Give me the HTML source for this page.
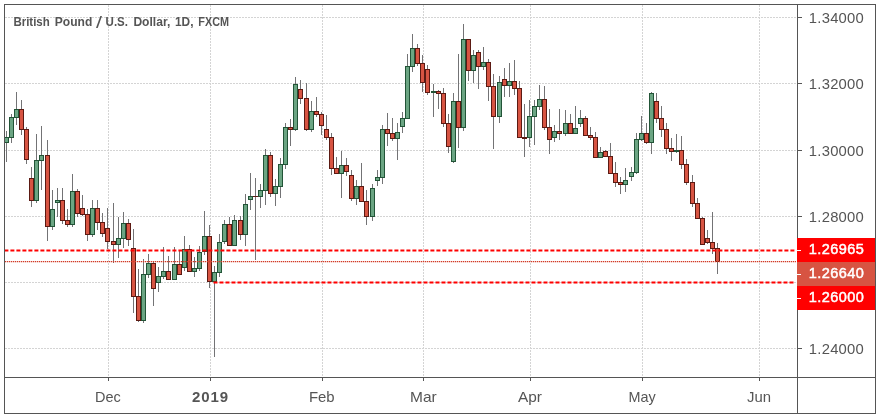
<!DOCTYPE html>
<html><head><meta charset="utf-8"><title>GBPUSD</title>
<style>html,body{margin:0;padding:0;background:#fff;}svg{display:block}text{font-family:"Liberation Sans",sans-serif;}</style></head><body>
<svg width="879" height="419" viewBox="0 0 879 419">
<rect x="0" y="0" width="879" height="419" fill="#ffffff"/>
<g stroke="#d4d4d4" stroke-width="1" stroke-dasharray="2 1" shape-rendering="crispEdges">
<line x1="5" x2="797" y1="17.5" y2="17.5"/>
<line x1="5" x2="797" y1="83.5" y2="83.5"/>
<line x1="5" x2="797" y1="150.5" y2="150.5"/>
<line x1="5" x2="797" y1="216.5" y2="216.5"/>
<line x1="5" x2="797" y1="282.5" y2="282.5"/>
<line x1="5" x2="797" y1="348.5" y2="348.5"/>
<line x1="108.5" x2="108.5" y1="5" y2="377"/>
<line x1="210.5" x2="210.5" y1="5" y2="377"/>
<line x1="322.5" x2="322.5" y1="5" y2="377"/>
<line x1="423.5" x2="423.5" y1="5" y2="377"/>
<line x1="530.5" x2="530.5" y1="5" y2="377"/>
<line x1="642.5" x2="642.5" y1="5" y2="377"/>
<line x1="759.5" x2="759.5" y1="5" y2="377"/>
</g>
<g shape-rendering="crispEdges">
<rect x="6" y="131" width="1" height="31" fill="#737375"/>
<rect x="5" y="137" width="4" height="6" fill="#225437"/>
<rect x="5" y="138" width="3" height="4" fill="#6ba583"/>
<rect x="11" y="114" width="1" height="29" fill="#737375"/>
<rect x="9" y="117" width="5" height="21" fill="#225437"/>
<rect x="10" y="118" width="3" height="19" fill="#6ba583"/>
<rect x="16" y="92" width="1" height="33" fill="#737375"/>
<rect x="14" y="109" width="5" height="9" fill="#225437"/>
<rect x="15" y="110" width="3" height="7" fill="#6ba583"/>
<rect x="21" y="100" width="1" height="35" fill="#737375"/>
<rect x="19" y="109" width="5" height="21" fill="#5b1a13"/>
<rect x="20" y="110" width="3" height="19" fill="#d75442"/>
<rect x="26" y="127" width="1" height="37" fill="#737375"/>
<rect x="24" y="129" width="5" height="31" fill="#5b1a13"/>
<rect x="25" y="130" width="3" height="29" fill="#d75442"/>
<rect x="31" y="167" width="1" height="40" fill="#737375"/>
<rect x="29" y="178" width="5" height="23" fill="#5b1a13"/>
<rect x="30" y="179" width="3" height="21" fill="#d75442"/>
<rect x="36" y="134" width="1" height="69" fill="#737375"/>
<rect x="34" y="160" width="5" height="41" fill="#225437"/>
<rect x="35" y="161" width="3" height="39" fill="#6ba583"/>
<rect x="41" y="126" width="1" height="64" fill="#737375"/>
<rect x="39" y="155" width="5" height="6" fill="#225437"/>
<rect x="40" y="156" width="3" height="4" fill="#6ba583"/>
<rect x="47" y="140" width="1" height="101" fill="#737375"/>
<rect x="45" y="155" width="5" height="72" fill="#5b1a13"/>
<rect x="46" y="156" width="3" height="70" fill="#d75442"/>
<rect x="52" y="190" width="1" height="40" fill="#737375"/>
<rect x="50" y="209" width="5" height="18" fill="#225437"/>
<rect x="51" y="210" width="3" height="16" fill="#6ba583"/>
<rect x="57" y="188" width="1" height="29" fill="#737375"/>
<rect x="55" y="200" width="5" height="3" fill="#225437"/>
<rect x="56" y="201" width="3" height="1" fill="#6ba583"/>
<rect x="62" y="188" width="1" height="36" fill="#737375"/>
<rect x="60" y="200" width="5" height="21" fill="#5b1a13"/>
<rect x="61" y="201" width="3" height="19" fill="#d75442"/>
<rect x="67" y="209" width="1" height="18" fill="#737375"/>
<rect x="65" y="220" width="5" height="5" fill="#5b1a13"/>
<rect x="66" y="221" width="3" height="3" fill="#d75442"/>
<rect x="72" y="174" width="1" height="53" fill="#737375"/>
<rect x="70" y="191" width="5" height="34" fill="#225437"/>
<rect x="71" y="192" width="3" height="32" fill="#6ba583"/>
<rect x="77" y="189" width="1" height="28" fill="#737375"/>
<rect x="75" y="191" width="5" height="23" fill="#5b1a13"/>
<rect x="76" y="192" width="3" height="21" fill="#d75442"/>
<rect x="82" y="195" width="1" height="21" fill="#737375"/>
<rect x="80" y="208" width="5" height="7" fill="#5b1a13"/>
<rect x="81" y="209" width="3" height="5" fill="#d75442"/>
<rect x="87" y="209" width="1" height="32" fill="#737375"/>
<rect x="85" y="214" width="5" height="21" fill="#5b1a13"/>
<rect x="86" y="215" width="3" height="19" fill="#d75442"/>
<rect x="92" y="200" width="1" height="37" fill="#737375"/>
<rect x="90" y="208" width="5" height="27" fill="#225437"/>
<rect x="91" y="209" width="3" height="25" fill="#6ba583"/>
<rect x="97" y="200" width="1" height="30" fill="#737375"/>
<rect x="95" y="208" width="5" height="15" fill="#5b1a13"/>
<rect x="96" y="209" width="3" height="13" fill="#d75442"/>
<rect x="102" y="213" width="1" height="24" fill="#737375"/>
<rect x="100" y="222" width="5" height="12" fill="#5b1a13"/>
<rect x="101" y="223" width="3" height="10" fill="#d75442"/>
<rect x="107" y="208" width="1" height="41" fill="#737375"/>
<rect x="105" y="228" width="5" height="14" fill="#5b1a13"/>
<rect x="106" y="229" width="3" height="12" fill="#d75442"/>
<rect x="113" y="203" width="1" height="60" fill="#737375"/>
<rect x="111" y="241" width="5" height="4" fill="#5b1a13"/>
<rect x="112" y="242" width="3" height="2" fill="#d75442"/>
<rect x="118" y="217" width="1" height="41" fill="#737375"/>
<rect x="116" y="238" width="5" height="7" fill="#225437"/>
<rect x="117" y="239" width="3" height="5" fill="#6ba583"/>
<rect x="123" y="212" width="1" height="36" fill="#737375"/>
<rect x="121" y="223" width="5" height="16" fill="#225437"/>
<rect x="122" y="224" width="3" height="14" fill="#6ba583"/>
<rect x="128" y="219" width="1" height="27" fill="#737375"/>
<rect x="126" y="223" width="5" height="17" fill="#5b1a13"/>
<rect x="127" y="224" width="3" height="15" fill="#d75442"/>
<rect x="133" y="229" width="1" height="84" fill="#737375"/>
<rect x="131" y="248" width="5" height="49" fill="#5b1a13"/>
<rect x="132" y="249" width="3" height="47" fill="#d75442"/>
<rect x="138" y="269" width="1" height="53" fill="#737375"/>
<rect x="136" y="296" width="5" height="25" fill="#5b1a13"/>
<rect x="137" y="297" width="3" height="23" fill="#d75442"/>
<rect x="143" y="259" width="1" height="64" fill="#737375"/>
<rect x="141" y="274" width="5" height="47" fill="#225437"/>
<rect x="142" y="275" width="3" height="45" fill="#6ba583"/>
<rect x="148" y="254" width="1" height="24" fill="#737375"/>
<rect x="146" y="263" width="5" height="12" fill="#225437"/>
<rect x="147" y="264" width="3" height="10" fill="#6ba583"/>
<rect x="153" y="262" width="1" height="44" fill="#737375"/>
<rect x="151" y="263" width="5" height="26" fill="#5b1a13"/>
<rect x="152" y="264" width="3" height="24" fill="#d75442"/>
<rect x="158" y="267" width="1" height="25" fill="#737375"/>
<rect x="156" y="276" width="5" height="7" fill="#225437"/>
<rect x="157" y="277" width="3" height="5" fill="#6ba583"/>
<rect x="163" y="247" width="1" height="32" fill="#737375"/>
<rect x="161" y="271" width="5" height="6" fill="#225437"/>
<rect x="162" y="272" width="3" height="4" fill="#6ba583"/>
<rect x="168" y="256" width="1" height="23" fill="#737375"/>
<rect x="166" y="271" width="5" height="9" fill="#5b1a13"/>
<rect x="167" y="272" width="3" height="7" fill="#d75442"/>
<rect x="174" y="247" width="1" height="32" fill="#737375"/>
<rect x="172" y="264" width="5" height="16" fill="#225437"/>
<rect x="173" y="265" width="3" height="14" fill="#6ba583"/>
<rect x="179" y="250" width="1" height="25" fill="#737375"/>
<rect x="177" y="264" width="5" height="11" fill="#5b1a13"/>
<rect x="178" y="265" width="3" height="9" fill="#d75442"/>
<rect x="184" y="236" width="1" height="35" fill="#737375"/>
<rect x="182" y="249" width="5" height="19" fill="#225437"/>
<rect x="183" y="250" width="3" height="17" fill="#6ba583"/>
<rect x="189" y="245" width="1" height="26" fill="#737375"/>
<rect x="187" y="249" width="5" height="23" fill="#5b1a13"/>
<rect x="188" y="250" width="3" height="21" fill="#d75442"/>
<rect x="194" y="257" width="1" height="20" fill="#737375"/>
<rect x="192" y="268" width="5" height="4" fill="#225437"/>
<rect x="193" y="269" width="3" height="2" fill="#6ba583"/>
<rect x="199" y="246" width="1" height="25" fill="#737375"/>
<rect x="197" y="252" width="5" height="17" fill="#225437"/>
<rect x="198" y="253" width="3" height="15" fill="#6ba583"/>
<rect x="204" y="211" width="1" height="44" fill="#737375"/>
<rect x="202" y="236" width="5" height="16" fill="#225437"/>
<rect x="203" y="237" width="3" height="14" fill="#6ba583"/>
<rect x="209" y="225" width="1" height="63" fill="#737375"/>
<rect x="207" y="236" width="5" height="46" fill="#5b1a13"/>
<rect x="208" y="237" width="3" height="44" fill="#d75442"/>
<rect x="214" y="266" width="1" height="91" fill="#737375"/>
<rect x="212" y="272" width="5" height="10" fill="#225437"/>
<rect x="213" y="273" width="3" height="8" fill="#6ba583"/>
<rect x="219" y="234" width="1" height="43" fill="#737375"/>
<rect x="217" y="242" width="5" height="31" fill="#225437"/>
<rect x="218" y="243" width="3" height="29" fill="#6ba583"/>
<rect x="224" y="220" width="1" height="24" fill="#737375"/>
<rect x="222" y="224" width="5" height="18" fill="#225437"/>
<rect x="223" y="225" width="3" height="16" fill="#6ba583"/>
<rect x="229" y="217" width="1" height="29" fill="#737375"/>
<rect x="227" y="224" width="5" height="22" fill="#5b1a13"/>
<rect x="228" y="225" width="3" height="20" fill="#d75442"/>
<rect x="234" y="215" width="1" height="31" fill="#737375"/>
<rect x="232" y="220" width="5" height="26" fill="#225437"/>
<rect x="233" y="221" width="3" height="24" fill="#6ba583"/>
<rect x="240" y="216" width="1" height="24" fill="#737375"/>
<rect x="238" y="220" width="5" height="15" fill="#5b1a13"/>
<rect x="239" y="221" width="3" height="13" fill="#d75442"/>
<rect x="245" y="194" width="1" height="52" fill="#737375"/>
<rect x="243" y="204" width="5" height="31" fill="#225437"/>
<rect x="244" y="205" width="3" height="29" fill="#6ba583"/>
<rect x="250" y="173" width="1" height="37" fill="#737375"/>
<rect x="248" y="196" width="5" height="4" fill="#225437"/>
<rect x="249" y="197" width="3" height="2" fill="#6ba583"/>
<rect x="255" y="178" width="1" height="82" fill="#737375"/>
<rect x="253" y="196" width="5" height="1" fill="#5b1a13"/>
<rect x="260" y="184" width="1" height="24" fill="#737375"/>
<rect x="258" y="190" width="5" height="7" fill="#225437"/>
<rect x="259" y="191" width="3" height="5" fill="#6ba583"/>
<rect x="265" y="149" width="1" height="56" fill="#737375"/>
<rect x="263" y="155" width="5" height="36" fill="#225437"/>
<rect x="264" y="156" width="3" height="34" fill="#6ba583"/>
<rect x="270" y="152" width="1" height="45" fill="#737375"/>
<rect x="268" y="155" width="5" height="39" fill="#5b1a13"/>
<rect x="269" y="156" width="3" height="37" fill="#d75442"/>
<rect x="275" y="179" width="1" height="27" fill="#737375"/>
<rect x="273" y="186" width="5" height="8" fill="#225437"/>
<rect x="274" y="187" width="3" height="6" fill="#6ba583"/>
<rect x="280" y="158" width="1" height="40" fill="#737375"/>
<rect x="278" y="164" width="5" height="23" fill="#225437"/>
<rect x="279" y="165" width="3" height="21" fill="#6ba583"/>
<rect x="285" y="123" width="1" height="46" fill="#737375"/>
<rect x="283" y="127" width="5" height="38" fill="#225437"/>
<rect x="284" y="128" width="3" height="36" fill="#6ba583"/>
<rect x="290" y="119" width="1" height="27" fill="#737375"/>
<rect x="288" y="127" width="5" height="3" fill="#5b1a13"/>
<rect x="289" y="128" width="3" height="1" fill="#d75442"/>
<rect x="295" y="77" width="1" height="54" fill="#737375"/>
<rect x="293" y="84" width="5" height="46" fill="#225437"/>
<rect x="294" y="85" width="3" height="44" fill="#6ba583"/>
<rect x="300" y="80" width="1" height="24" fill="#737375"/>
<rect x="298" y="89" width="5" height="10" fill="#5b1a13"/>
<rect x="299" y="90" width="3" height="8" fill="#d75442"/>
<rect x="306" y="83" width="1" height="48" fill="#737375"/>
<rect x="304" y="98" width="5" height="32" fill="#5b1a13"/>
<rect x="305" y="99" width="3" height="30" fill="#d75442"/>
<rect x="311" y="101" width="1" height="31" fill="#737375"/>
<rect x="309" y="111" width="5" height="19" fill="#225437"/>
<rect x="310" y="112" width="3" height="17" fill="#6ba583"/>
<rect x="316" y="97" width="1" height="20" fill="#737375"/>
<rect x="314" y="111" width="5" height="4" fill="#5b1a13"/>
<rect x="315" y="112" width="3" height="2" fill="#d75442"/>
<rect x="321" y="112" width="1" height="23" fill="#737375"/>
<rect x="319" y="114" width="5" height="12" fill="#5b1a13"/>
<rect x="320" y="115" width="3" height="10" fill="#d75442"/>
<rect x="326" y="115" width="1" height="25" fill="#737375"/>
<rect x="324" y="129" width="5" height="9" fill="#5b1a13"/>
<rect x="325" y="130" width="3" height="7" fill="#d75442"/>
<rect x="331" y="133" width="1" height="42" fill="#737375"/>
<rect x="329" y="137" width="5" height="32" fill="#5b1a13"/>
<rect x="330" y="138" width="3" height="30" fill="#d75442"/>
<rect x="336" y="157" width="1" height="16" fill="#737375"/>
<rect x="334" y="168" width="5" height="6" fill="#5b1a13"/>
<rect x="335" y="169" width="3" height="4" fill="#d75442"/>
<rect x="341" y="151" width="1" height="47" fill="#737375"/>
<rect x="339" y="165" width="5" height="9" fill="#225437"/>
<rect x="340" y="166" width="3" height="7" fill="#6ba583"/>
<rect x="346" y="158" width="1" height="18" fill="#737375"/>
<rect x="344" y="165" width="5" height="7" fill="#5b1a13"/>
<rect x="345" y="166" width="3" height="5" fill="#d75442"/>
<rect x="351" y="170" width="1" height="31" fill="#737375"/>
<rect x="349" y="175" width="5" height="24" fill="#5b1a13"/>
<rect x="350" y="176" width="3" height="22" fill="#d75442"/>
<rect x="356" y="180" width="1" height="25" fill="#737375"/>
<rect x="354" y="186" width="5" height="13" fill="#225437"/>
<rect x="355" y="187" width="3" height="11" fill="#6ba583"/>
<rect x="361" y="163" width="1" height="38" fill="#737375"/>
<rect x="359" y="186" width="5" height="16" fill="#5b1a13"/>
<rect x="360" y="187" width="3" height="14" fill="#d75442"/>
<rect x="366" y="190" width="1" height="35" fill="#737375"/>
<rect x="364" y="201" width="5" height="16" fill="#5b1a13"/>
<rect x="365" y="202" width="3" height="14" fill="#d75442"/>
<rect x="372" y="184" width="1" height="37" fill="#737375"/>
<rect x="370" y="188" width="5" height="29" fill="#225437"/>
<rect x="371" y="189" width="3" height="27" fill="#6ba583"/>
<rect x="377" y="170" width="1" height="16" fill="#737375"/>
<rect x="375" y="177" width="5" height="4" fill="#225437"/>
<rect x="376" y="178" width="3" height="2" fill="#6ba583"/>
<rect x="382" y="125" width="1" height="59" fill="#737375"/>
<rect x="380" y="129" width="5" height="49" fill="#225437"/>
<rect x="381" y="130" width="3" height="47" fill="#6ba583"/>
<rect x="387" y="113" width="1" height="33" fill="#737375"/>
<rect x="385" y="129" width="5" height="5" fill="#5b1a13"/>
<rect x="386" y="130" width="3" height="3" fill="#d75442"/>
<rect x="392" y="118" width="1" height="23" fill="#737375"/>
<rect x="390" y="133" width="5" height="6" fill="#5b1a13"/>
<rect x="391" y="134" width="3" height="4" fill="#d75442"/>
<rect x="397" y="123" width="1" height="37" fill="#737375"/>
<rect x="395" y="132" width="5" height="7" fill="#225437"/>
<rect x="396" y="133" width="3" height="5" fill="#6ba583"/>
<rect x="402" y="112" width="1" height="21" fill="#737375"/>
<rect x="400" y="118" width="5" height="9" fill="#225437"/>
<rect x="401" y="119" width="3" height="7" fill="#6ba583"/>
<rect x="407" y="54" width="1" height="64" fill="#737375"/>
<rect x="405" y="66" width="5" height="53" fill="#225437"/>
<rect x="406" y="67" width="3" height="51" fill="#6ba583"/>
<rect x="412" y="34" width="1" height="38" fill="#737375"/>
<rect x="410" y="48" width="5" height="19" fill="#225437"/>
<rect x="411" y="49" width="3" height="17" fill="#6ba583"/>
<rect x="417" y="44" width="1" height="22" fill="#737375"/>
<rect x="415" y="48" width="5" height="16" fill="#5b1a13"/>
<rect x="416" y="49" width="3" height="14" fill="#d75442"/>
<rect x="422" y="55" width="1" height="37" fill="#737375"/>
<rect x="420" y="63" width="5" height="20" fill="#5b1a13"/>
<rect x="421" y="64" width="3" height="18" fill="#d75442"/>
<rect x="427" y="65" width="1" height="30" fill="#737375"/>
<rect x="425" y="69" width="5" height="24" fill="#5b1a13"/>
<rect x="426" y="70" width="3" height="22" fill="#d75442"/>
<rect x="433" y="84" width="1" height="33" fill="#737375"/>
<rect x="431" y="91" width="5" height="2" fill="#225437"/>
<rect x="438" y="90" width="1" height="19" fill="#737375"/>
<rect x="436" y="91" width="5" height="3" fill="#5b1a13"/>
<rect x="437" y="92" width="3" height="1" fill="#d75442"/>
<rect x="443" y="88" width="1" height="39" fill="#737375"/>
<rect x="441" y="93" width="5" height="31" fill="#5b1a13"/>
<rect x="442" y="94" width="3" height="29" fill="#d75442"/>
<rect x="448" y="114" width="1" height="39" fill="#737375"/>
<rect x="446" y="123" width="5" height="24" fill="#5b1a13"/>
<rect x="447" y="124" width="3" height="22" fill="#d75442"/>
<rect x="453" y="93" width="1" height="70" fill="#737375"/>
<rect x="451" y="101" width="5" height="61" fill="#225437"/>
<rect x="452" y="102" width="3" height="59" fill="#6ba583"/>
<rect x="458" y="54" width="1" height="94" fill="#737375"/>
<rect x="456" y="101" width="5" height="27" fill="#5b1a13"/>
<rect x="457" y="102" width="3" height="25" fill="#d75442"/>
<rect x="463" y="24" width="1" height="107" fill="#737375"/>
<rect x="461" y="39" width="5" height="89" fill="#225437"/>
<rect x="462" y="40" width="3" height="87" fill="#6ba583"/>
<rect x="468" y="39" width="1" height="42" fill="#737375"/>
<rect x="466" y="39" width="5" height="32" fill="#5b1a13"/>
<rect x="467" y="40" width="3" height="30" fill="#d75442"/>
<rect x="473" y="50" width="1" height="33" fill="#737375"/>
<rect x="471" y="55" width="5" height="16" fill="#225437"/>
<rect x="472" y="56" width="3" height="14" fill="#6ba583"/>
<rect x="478" y="50" width="1" height="39" fill="#737375"/>
<rect x="476" y="52" width="5" height="15" fill="#5b1a13"/>
<rect x="477" y="53" width="3" height="13" fill="#d75442"/>
<rect x="483" y="47" width="1" height="23" fill="#737375"/>
<rect x="481" y="62" width="5" height="5" fill="#225437"/>
<rect x="482" y="63" width="3" height="3" fill="#6ba583"/>
<rect x="488" y="59" width="1" height="42" fill="#737375"/>
<rect x="486" y="62" width="5" height="25" fill="#5b1a13"/>
<rect x="487" y="63" width="3" height="23" fill="#d75442"/>
<rect x="493" y="74" width="1" height="75" fill="#737375"/>
<rect x="491" y="86" width="5" height="31" fill="#5b1a13"/>
<rect x="492" y="87" width="3" height="29" fill="#d75442"/>
<rect x="499" y="76" width="1" height="47" fill="#737375"/>
<rect x="497" y="82" width="5" height="35" fill="#225437"/>
<rect x="498" y="83" width="3" height="33" fill="#6ba583"/>
<rect x="504" y="68" width="1" height="29" fill="#737375"/>
<rect x="502" y="79" width="5" height="7" fill="#5b1a13"/>
<rect x="503" y="80" width="3" height="5" fill="#d75442"/>
<rect x="509" y="63" width="1" height="34" fill="#737375"/>
<rect x="507" y="81" width="5" height="5" fill="#225437"/>
<rect x="508" y="82" width="3" height="3" fill="#6ba583"/>
<rect x="514" y="60" width="1" height="35" fill="#737375"/>
<rect x="512" y="81" width="5" height="8" fill="#5b1a13"/>
<rect x="513" y="82" width="3" height="6" fill="#d75442"/>
<rect x="519" y="81" width="1" height="56" fill="#737375"/>
<rect x="517" y="88" width="5" height="50" fill="#5b1a13"/>
<rect x="518" y="89" width="3" height="48" fill="#d75442"/>
<rect x="524" y="104" width="1" height="53" fill="#737375"/>
<rect x="522" y="137" width="5" height="2" fill="#5b1a13"/>
<rect x="529" y="100" width="1" height="47" fill="#737375"/>
<rect x="527" y="116" width="5" height="22" fill="#225437"/>
<rect x="528" y="117" width="3" height="20" fill="#6ba583"/>
<rect x="534" y="100" width="1" height="45" fill="#737375"/>
<rect x="532" y="106" width="5" height="11" fill="#225437"/>
<rect x="533" y="107" width="3" height="9" fill="#6ba583"/>
<rect x="539" y="85" width="1" height="25" fill="#737375"/>
<rect x="537" y="99" width="5" height="8" fill="#225437"/>
<rect x="538" y="100" width="3" height="6" fill="#6ba583"/>
<rect x="544" y="86" width="1" height="44" fill="#737375"/>
<rect x="542" y="99" width="5" height="29" fill="#5b1a13"/>
<rect x="543" y="100" width="3" height="27" fill="#d75442"/>
<rect x="549" y="109" width="1" height="45" fill="#737375"/>
<rect x="547" y="127" width="5" height="13" fill="#5b1a13"/>
<rect x="548" y="128" width="3" height="11" fill="#d75442"/>
<rect x="554" y="125" width="1" height="17" fill="#737375"/>
<rect x="552" y="131" width="5" height="7" fill="#225437"/>
<rect x="553" y="132" width="3" height="5" fill="#6ba583"/>
<rect x="559" y="109" width="1" height="31" fill="#737375"/>
<rect x="557" y="131" width="5" height="3" fill="#5b1a13"/>
<rect x="558" y="132" width="3" height="1" fill="#d75442"/>
<rect x="565" y="110" width="1" height="26" fill="#737375"/>
<rect x="563" y="123" width="5" height="11" fill="#225437"/>
<rect x="564" y="124" width="3" height="9" fill="#6ba583"/>
<rect x="570" y="114" width="1" height="19" fill="#737375"/>
<rect x="568" y="123" width="5" height="11" fill="#5b1a13"/>
<rect x="569" y="124" width="3" height="9" fill="#d75442"/>
<rect x="575" y="106" width="1" height="27" fill="#737375"/>
<rect x="573" y="128" width="5" height="6" fill="#225437"/>
<rect x="574" y="129" width="3" height="4" fill="#6ba583"/>
<rect x="580" y="110" width="1" height="17" fill="#737375"/>
<rect x="578" y="118" width="5" height="6" fill="#225437"/>
<rect x="579" y="119" width="3" height="4" fill="#6ba583"/>
<rect x="585" y="116" width="1" height="19" fill="#737375"/>
<rect x="583" y="118" width="5" height="18" fill="#5b1a13"/>
<rect x="584" y="119" width="3" height="16" fill="#d75442"/>
<rect x="590" y="127" width="1" height="13" fill="#737375"/>
<rect x="588" y="135" width="5" height="3" fill="#5b1a13"/>
<rect x="589" y="136" width="3" height="1" fill="#d75442"/>
<rect x="595" y="132" width="1" height="25" fill="#737375"/>
<rect x="593" y="137" width="5" height="21" fill="#5b1a13"/>
<rect x="594" y="138" width="3" height="19" fill="#d75442"/>
<rect x="600" y="147" width="1" height="10" fill="#737375"/>
<rect x="598" y="152" width="5" height="6" fill="#225437"/>
<rect x="599" y="153" width="3" height="4" fill="#6ba583"/>
<rect x="605" y="150" width="1" height="7" fill="#737375"/>
<rect x="603" y="151" width="5" height="6" fill="#5b1a13"/>
<rect x="604" y="152" width="3" height="4" fill="#d75442"/>
<rect x="610" y="143" width="1" height="30" fill="#737375"/>
<rect x="608" y="156" width="5" height="18" fill="#5b1a13"/>
<rect x="609" y="157" width="3" height="16" fill="#d75442"/>
<rect x="615" y="162" width="1" height="25" fill="#737375"/>
<rect x="613" y="173" width="5" height="10" fill="#5b1a13"/>
<rect x="614" y="174" width="3" height="8" fill="#d75442"/>
<rect x="620" y="177" width="1" height="17" fill="#737375"/>
<rect x="618" y="182" width="5" height="3" fill="#5b1a13"/>
<rect x="619" y="183" width="3" height="1" fill="#d75442"/>
<rect x="625" y="168" width="1" height="24" fill="#737375"/>
<rect x="623" y="180" width="5" height="5" fill="#225437"/>
<rect x="624" y="181" width="3" height="3" fill="#6ba583"/>
<rect x="631" y="167" width="1" height="14" fill="#737375"/>
<rect x="629" y="172" width="5" height="5" fill="#225437"/>
<rect x="630" y="173" width="3" height="3" fill="#6ba583"/>
<rect x="636" y="133" width="1" height="41" fill="#737375"/>
<rect x="634" y="139" width="5" height="34" fill="#225437"/>
<rect x="635" y="140" width="3" height="32" fill="#6ba583"/>
<rect x="641" y="116" width="1" height="25" fill="#737375"/>
<rect x="639" y="133" width="5" height="7" fill="#225437"/>
<rect x="640" y="134" width="3" height="5" fill="#6ba583"/>
<rect x="646" y="123" width="1" height="21" fill="#737375"/>
<rect x="644" y="133" width="5" height="10" fill="#5b1a13"/>
<rect x="645" y="134" width="3" height="8" fill="#d75442"/>
<rect x="651" y="92" width="1" height="62" fill="#737375"/>
<rect x="649" y="93" width="5" height="50" fill="#225437"/>
<rect x="650" y="94" width="3" height="48" fill="#6ba583"/>
<rect x="656" y="93" width="1" height="30" fill="#737375"/>
<rect x="654" y="101" width="5" height="18" fill="#5b1a13"/>
<rect x="655" y="102" width="3" height="16" fill="#d75442"/>
<rect x="661" y="106" width="1" height="31" fill="#737375"/>
<rect x="659" y="118" width="5" height="12" fill="#5b1a13"/>
<rect x="660" y="119" width="3" height="10" fill="#d75442"/>
<rect x="666" y="123" width="1" height="31" fill="#737375"/>
<rect x="664" y="129" width="5" height="20" fill="#5b1a13"/>
<rect x="665" y="130" width="3" height="18" fill="#d75442"/>
<rect x="671" y="138" width="1" height="23" fill="#737375"/>
<rect x="669" y="148" width="5" height="4" fill="#5b1a13"/>
<rect x="670" y="149" width="3" height="2" fill="#d75442"/>
<rect x="676" y="134" width="1" height="19" fill="#737375"/>
<rect x="674" y="150" width="5" height="2" fill="#225437"/>
<rect x="681" y="136" width="1" height="33" fill="#737375"/>
<rect x="679" y="150" width="5" height="15" fill="#5b1a13"/>
<rect x="680" y="151" width="3" height="13" fill="#d75442"/>
<rect x="686" y="159" width="1" height="26" fill="#737375"/>
<rect x="684" y="164" width="5" height="19" fill="#5b1a13"/>
<rect x="685" y="165" width="3" height="17" fill="#d75442"/>
<rect x="692" y="175" width="1" height="32" fill="#737375"/>
<rect x="690" y="182" width="5" height="22" fill="#5b1a13"/>
<rect x="691" y="183" width="3" height="20" fill="#d75442"/>
<rect x="697" y="198" width="1" height="21" fill="#737375"/>
<rect x="695" y="203" width="5" height="16" fill="#5b1a13"/>
<rect x="696" y="204" width="3" height="14" fill="#d75442"/>
<rect x="702" y="217" width="1" height="28" fill="#737375"/>
<rect x="700" y="218" width="5" height="27" fill="#5b1a13"/>
<rect x="701" y="219" width="3" height="25" fill="#d75442"/>
<rect x="707" y="230" width="1" height="14" fill="#737375"/>
<rect x="705" y="238" width="5" height="5" fill="#5b1a13"/>
<rect x="706" y="239" width="3" height="3" fill="#d75442"/>
<rect x="712" y="212" width="1" height="42" fill="#737375"/>
<rect x="710" y="242" width="5" height="7" fill="#5b1a13"/>
<rect x="711" y="243" width="3" height="5" fill="#d75442"/>
<rect x="717" y="243" width="1" height="31" fill="#737375"/>
<rect x="715" y="248" width="5" height="14" fill="#5b1a13"/>
<rect x="716" y="249" width="3" height="12" fill="#d75442"/>
</g>
<g fill="none">
<line x1="4.4" x2="795.4" y1="250.5" y2="250.5" stroke="#ff0000" stroke-width="2" stroke-dasharray="4 2"/>
<line x1="213.5" x2="795.4" y1="282.5" y2="282.5" stroke="#ff0000" stroke-width="2" stroke-dasharray="4 2"/>
<line x1="5" x2="796" y1="261.5" y2="261.5" stroke="#d23c28" stroke-width="1.25" stroke-dasharray="1.3 0.7"/>
</g>
<g fill="#555555" shape-rendering="crispEdges">
<rect x="4" y="4" width="872" height="1"/>
<rect x="4" y="413" width="872" height="1"/>
<rect x="4" y="4" width="1" height="410"/>
<rect x="875" y="4" width="1" height="410"/>
<rect x="797" y="4" width="1" height="410"/>
<rect x="4" y="377" width="872" height="1"/>
<rect x="798" y="17" width="4" height="1"/>
<rect x="798" y="83" width="4" height="1"/>
<rect x="798" y="150" width="4" height="1"/>
<rect x="798" y="216" width="4" height="1"/>
<rect x="798" y="348" width="4" height="1"/>
<rect x="108" y="378" width="1" height="3"/>
<rect x="210" y="378" width="1" height="3"/>
<rect x="322" y="378" width="1" height="3"/>
<rect x="423" y="378" width="1" height="3"/>
<rect x="530" y="378" width="1" height="3"/>
<rect x="642" y="378" width="1" height="3"/>
<rect x="759" y="378" width="1" height="3"/>
</g>
<g font-size="14.8" fill="#555555">
<text x="808.8" y="22.75" textLength="55" lengthAdjust="spacing">1.34000</text>
<text x="808.8" y="88.75" textLength="55" lengthAdjust="spacing">1.32000</text>
<text x="808.8" y="155.75" textLength="55" lengthAdjust="spacing">1.30000</text>
<text x="808.8" y="221.75" textLength="55" lengthAdjust="spacing">1.28000</text>
<text x="808.8" y="353.75" textLength="55" lengthAdjust="spacing">1.24000</text>
</g>
<rect x="797" y="238" width="78" height="24" fill="#ff0000" shape-rendering="crispEdges"/>
<rect x="797" y="250" width="4" height="1" fill="#ffffff" shape-rendering="crispEdges"/>
<text x="808.8" y="254.45" font-size="14.5" fill="#ffffff" stroke="#ffffff" stroke-width="0.5" textLength="55" lengthAdjust="spacing">1.26965</text>
<rect x="797" y="262" width="78" height="24" fill="#d75442" shape-rendering="crispEdges"/>
<rect x="797" y="274" width="4" height="1" fill="#ffffff" shape-rendering="crispEdges"/>
<text x="808.8" y="278.45" font-size="14.5" fill="#ffffff" stroke="#ffffff" stroke-width="0.5" textLength="55" lengthAdjust="spacing">1.26640</text>
<rect x="797" y="286" width="78" height="24" fill="#ff0000" shape-rendering="crispEdges"/>
<rect x="797" y="298" width="4" height="1" fill="#ffffff" shape-rendering="crispEdges"/>
<text x="808.8" y="302.45" font-size="14.5" fill="#ffffff" stroke="#ffffff" stroke-width="0.5" textLength="55" lengthAdjust="spacing">1.26000</text>
<g font-size="14.5" fill="#555555">
<text x="95" y="402" textLength="25.75" lengthAdjust="spacingAndGlyphs">Dec</text>
<text x="308.9" y="402" textLength="25.7" lengthAdjust="spacingAndGlyphs">Feb</text>
<text x="410" y="402" textLength="26.7" lengthAdjust="spacingAndGlyphs">Mar</text>
<text x="518" y="402" textLength="24" lengthAdjust="spacingAndGlyphs">Apr</text>
<text x="628.4" y="402" textLength="27.2" lengthAdjust="spacingAndGlyphs">May</text>
<text x="747" y="402" textLength="24" lengthAdjust="spacingAndGlyphs">Jun</text>
<text x="192" y="402" font-weight="bold" font-size="15" textLength="36" lengthAdjust="spacing">2019</text>
</g>
<text y="25.7" font-size="13.3" font-weight="bold" fill="#555555">
<tspan x="13.4" textLength="36.4" lengthAdjust="spacingAndGlyphs">British</tspan> 
<tspan x="54.8" textLength="37.5" lengthAdjust="spacingAndGlyphs">Pound</tspan> 
<tspan x="96.0" font-size="15.8" font-weight="normal" dy="1.8" textLength="6.0" lengthAdjust="spacingAndGlyphs">/</tspan> 
<tspan x="105.6" dy="-1.8" textLength="22.4" lengthAdjust="spacingAndGlyphs">U.S.</tspan> 
<tspan x="133.4" textLength="36.9" lengthAdjust="spacingAndGlyphs">Dollar,</tspan> 
<tspan x="175" textLength="18.5" lengthAdjust="spacingAndGlyphs">1D,</tspan> 
<tspan x="198.3" textLength="30.7" lengthAdjust="spacingAndGlyphs">FXCM</tspan> 
</text>
</svg></body></html>
